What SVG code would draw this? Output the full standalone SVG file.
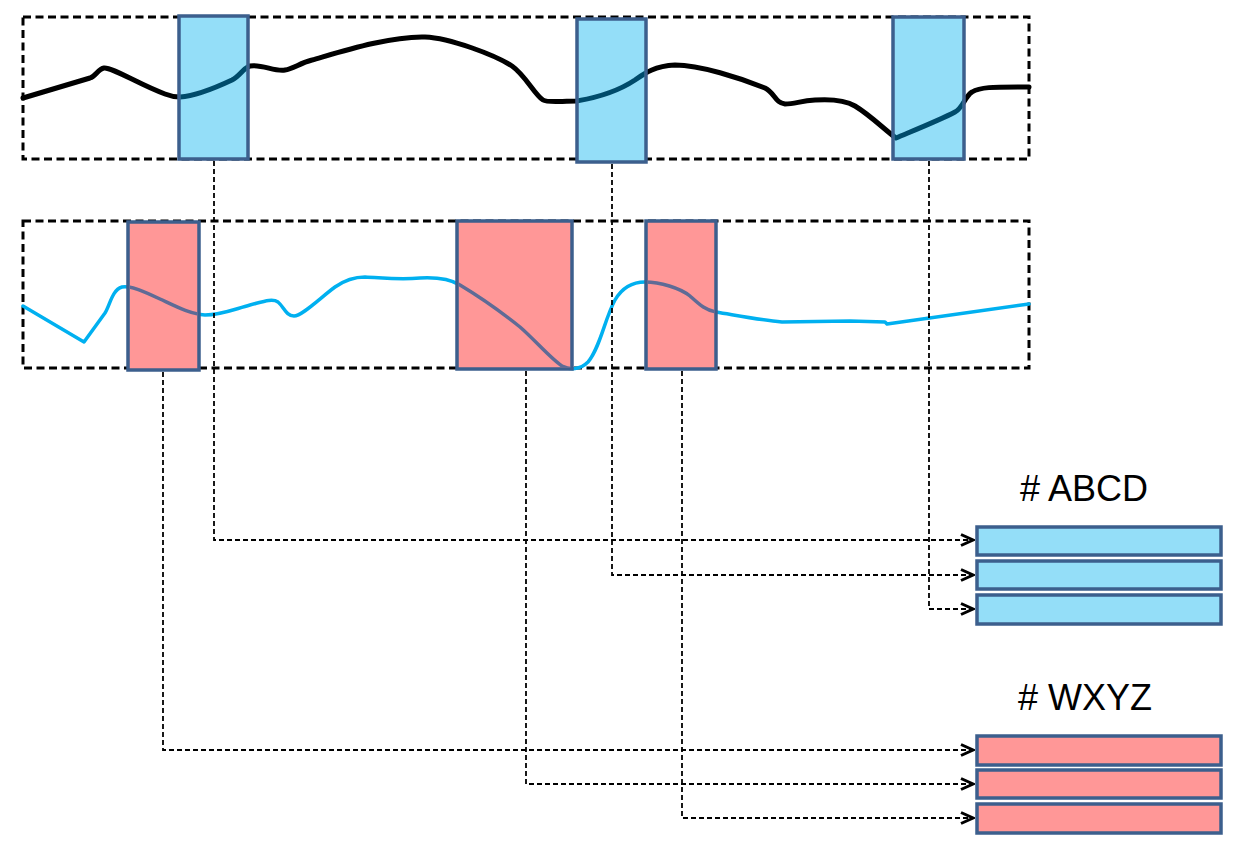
<svg xmlns="http://www.w3.org/2000/svg" width="1235" height="849" viewBox="0 0 1235 849">
<style>
.frame{fill:none;stroke:#000;stroke-width:3;stroke-dasharray:8,4.5}
.bbox{fill:#94DEF8;stroke:#3C5F8D;stroke-width:3.5}
.rbox{fill:#FF9797;stroke:#3C5F8D;stroke-width:3.5}
.conn{fill:none;stroke:#000;stroke-width:1.8;stroke-dasharray:5,3;marker-end:url(#arr)}
.lbl{font-family:"Liberation Sans",Arial,sans-serif;font-size:36px;fill:#000;text-anchor:middle}
</style>
<defs>
<marker id="arr" markerUnits="userSpaceOnUse" markerWidth="16" markerHeight="16" refX="14" refY="8" orient="auto">
<path d="M2,2.5 L14,8 L2,13.5" fill="none" stroke="#000" stroke-width="3"/>
</marker>
<path id="topc" d="M23,98 L90,78 C96,76 98,69 104,68 C112,67 140,85 165,94 C170,96 174,97 180,97 C195,96 215,88 232,80 C240,76 243,68 250,66 C262,64 275,72 285,70 C293,69 300,63 312,60 C340,52 390,36 425,37 C450,38 495,55 512,66 C525,75 535,95 543,100 C548,103 560,101 577,101 C600,97 620,90 635,80 C645,73 655,66 675,65 C700,65 740,78 765,88 C775,93 775,103 785,104 C795,104 800,101 815,100 C830,99 845,100 855,106 C870,115 885,130 896,138 C910,132 940,120 955,112 C963,108 965,96 972,92 C980,87 990,87 1029,87"/>
<path id="botc" d="M23,306 L84,342 L105,313 C110,305 112,290 122,287 C130,285 145,292 160,299 C175,306 190,314 205,315 C220,315 232,310 250,305 C262,302 272,298 278,302 C284,307 286,316 294,316 C302,316 320,298 335,287 C345,280 355,277 365,277 C385,278 400,280 420,278 C438,277 450,279 460,285 C480,297 505,315 520,327 C535,340 550,358 562,366 C570,370 580,370 588,362 C600,348 605,318 615,300 C622,288 632,282 645,282 C660,282 680,288 690,296 C700,305 705,310 716,312 C740,316 760,320 782,322 L850,321 L885,322 L887,324 L1029,304"/>
<clipPath id="cb">
<rect x="180.5" y="17.5" width="66" height="140"/>
<rect x="578.5" y="20.5" width="66" height="140"/>
<rect x="894.5" y="18.5" width="68" height="139"/>
</clipPath>
<clipPath id="cr">
<rect x="129.5" y="223.5" width="68" height="145"/>
<rect x="458.5" y="222.5" width="112" height="145"/>
<rect x="647.5" y="222.5" width="67" height="145"/>
</clipPath>
</defs>
<rect width="1235" height="849" fill="#fff"/>
<g id="frames">
<rect class="frame" x="23" y="17" width="1006" height="142"/>
<rect class="frame" x="23" y="221" width="1006" height="147"/>
</g>
<g id="curves">
<use href="#topc" fill="none" stroke="#000" stroke-width="5" stroke-linecap="round" stroke-linejoin="round"/>
<use href="#botc" fill="none" stroke="#00B0F0" stroke-width="3.5" stroke-linecap="round" stroke-linejoin="round"/>
</g>
<g id="blue1"><rect class="bbox" x="179" y="16" width="69" height="143"/></g>
<g id="blue2"><rect class="bbox" x="577" y="19" width="69" height="143"/></g>
<g id="blue3"><rect class="bbox" x="893" y="17" width="71" height="142"/></g>
<g id="red1"><rect class="rbox" x="128" y="222" width="71" height="148"/></g>
<g id="red2"><rect class="rbox" x="457" y="221" width="115" height="148"/></g>
<g id="red3"><rect class="rbox" x="646" y="221" width="70" height="148"/></g>
<g id="curves-inside">
<use href="#topc" clip-path="url(#cb)" fill="none" stroke="#004B6B" stroke-width="5" stroke-linecap="round" stroke-linejoin="round"/>
<use href="#botc" clip-path="url(#cr)" fill="none" stroke="#5F6B96" stroke-width="3.5" stroke-linecap="round" stroke-linejoin="round"/>
</g>
<g id="connectors">
<path class="conn" d="M214,161 V540 H973"/>
<path class="conn" d="M612,164 V575 H973"/>
<path class="conn" d="M929,161 V609 H973"/>
<path class="conn" d="M163,372 V750 H973"/>
<path class="conn" d="M526,371 V784 H973"/>
<path class="conn" d="M682,371 V818 H973"/>
</g>
<g id="abcd">
<text class="lbl" x="1084" y="501"># ABCD</text>
<rect class="bbox" x="977" y="527" width="244" height="28"/>
<rect class="bbox" x="977" y="561" width="244" height="28"/>
<rect class="bbox" x="977" y="595" width="244" height="29"/>
</g>
<g id="wxyz">
<text class="lbl" x="1085" y="710"># WXYZ</text>
<rect class="rbox" x="977" y="736" width="244" height="29"/>
<rect class="rbox" x="977" y="770" width="244" height="28"/>
<rect class="rbox" x="977" y="804" width="244" height="29"/>
</g>
</svg>
